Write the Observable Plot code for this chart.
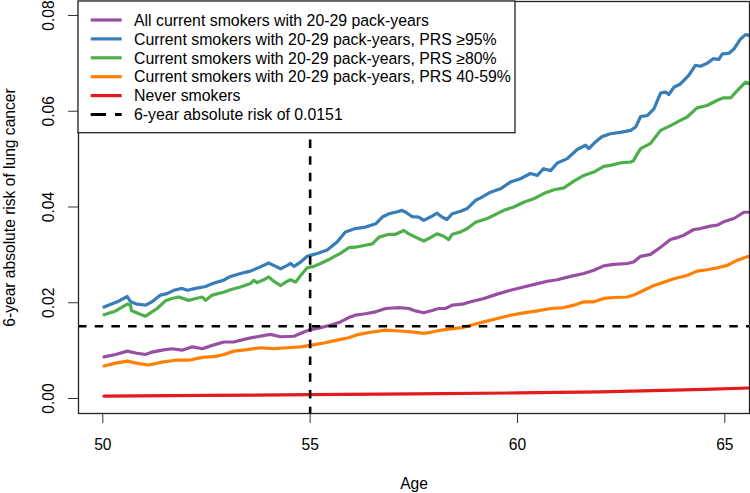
<!DOCTYPE html>
<html><head><meta charset="utf-8">
<script src="https://cdn.jsdelivr.net/npm/d3@7"></script>
<script src="https://cdn.jsdelivr.net/npm/@observablehq/plot@0.6"></script>
<style>
html,body{margin:0;padding:0;background:#fff;}
#chart{width:750px;height:493px;}
</style></head><body><div id="chart"></div>
<script>
const seriesNames = [
  "All current smokers with 20-29 pack-years",
  "Current smokers with 20-29 pack-years, PRS \u226595%",
  "Current smokers with 20-29 pack-years, PRS \u226580%",
  "Current smokers with 20-29 pack-years, PRS 40-59%",
  "Never smokers"
];
const thresholdLabel = "6-year absolute risk of 0.0151";
const seriesColors = ["#984EA3", "#377EB8", "#4DAF4A", "#FF7F00", "#E41A1C"];

// [age, 6-year absolute risk]
const purple = [[50.03,.0087],[50.31,.0092],[50.59,.0099],[50.79,.0095],[51.03,.0092],[51.19,.0097],[51.43,.0101],[51.67,.0104],[51.91,.0101],[52.16,.0108],[52.40,.0104],[52.64,.0111],[52.92,.0118],[53.16,.0118],[53.48,.0125],[53.72,.0129],[54.04,.0134],[54.29,.0129],[54.61,.0130],[54.85,.0139],[55.01,.0144],[55.25,.0148],[55.49,.0153],[55.73,.0160],[55.93,.0169],[56.09,.0174],[56.33,.0177],[56.58,.0181],[56.82,.0188],[57.14,.0190],[57.38,.0188],[57.54,.0183],[57.74,.0179],[57.94,.0184],[58.10,.0188],[58.26,.0188],[58.43,.0195],[58.67,.0197],[58.87,.0202],[59.19,.0209],[59.51,.0218],[59.83,.0226],[60.15,.0233],[60.48,.0240],[60.72,.0245],[60.96,.0248],[61.28,.0255],[61.60,.0261],[61.84,.0268],[62.08,.0277],[62.32,.0280],[62.65,.0282],[62.80,.0285],[62.97,.0297],[63.21,.0301],[63.45,.0316],[63.69,.0332],[63.85,.0336],[64.01,.0341],[64.25,.0353],[64.41,.0355],[64.65,.0360],[64.82,.0362],[64.97,.0369],[65.22,.0376],[65.46,.0389],[65.60,.0389]];
const blue = [[50.03,.0191],[50.35,.0202],[50.59,.0213],[50.67,.0202],[50.83,.0197],[51.03,.0195],[51.19,.0202],[51.39,.0216],[51.55,.0219],[51.71,.0226],[51.91,.0230],[52.04,.0226],[52.24,.0230],[52.48,.0234],[52.64,.0240],[52.91,.0247],[53.08,.0255],[53.32,.0261],[53.56,.0266],[53.80,.0275],[54.00,.0283],[54.12,.0278],[54.29,.0271],[54.45,.0278],[54.53,.0282],[54.61,.0276],[54.77,.0285],[54.93,.0297],[55.01,.0299],[55.17,.0303],[55.41,.0310],[55.65,.0327],[55.85,.0348],[56.09,.0355],[56.33,.0358],[56.58,.0365],[56.74,.0379],[56.90,.0386],[57.06,.0389],[57.22,.0393],[57.34,.0387],[57.46,.0380],[57.62,.0379],[57.74,.0372],[57.90,.0379],[58.06,.0387],[58.18,.0379],[58.30,.0374],[58.43,.0386],[58.63,.0391],[58.79,.0397],[58.99,.0414],[59.11,.0419],[59.35,.0431],[59.59,.0438],[59.83,.0452],[60.07,.0459],[60.31,.0470],[60.48,.0466],[60.63,.0480],[60.80,.0476],[60.96,.0492],[61.20,.0501],[61.44,.0520],[61.64,.0529],[61.72,.0522],[61.88,.0536],[62.04,.0547],[62.24,.0553],[62.48,.0556],[62.73,.0560],[62.85,.0567],[62.97,.0589],[63.13,.0591],[63.29,.0605],[63.45,.0638],[63.57,.0640],[63.65,.0635],[63.77,.0650],[63.93,.0657],[64.13,.0675],[64.29,.0696],[64.41,.0694],[64.57,.0700],[64.73,.0710],[64.85,.0708],[64.94,.0720],[65.10,.0721],[65.22,.0730],[65.38,.0751],[65.50,.0760],[65.60,.0758]];
const green = [[50.03,.0175],[50.31,.0183],[50.59,.0197],[50.67,.0195],[50.69,.0184],[50.87,.0177],[51.03,.0172],[51.15,.0179],[51.31,.0188],[51.51,.0204],[51.67,.0209],[51.83,.0212],[52.07,.0205],[52.24,.0209],[52.40,.0212],[52.48,.0205],[52.64,.0216],[52.91,.0222],[53.08,.0227],[53.32,.0233],[53.56,.0240],[53.64,.0247],[53.72,.0242],[53.88,.0248],[54.00,.0254],[54.12,.0245],[54.29,.0236],[54.45,.0245],[54.53,.0248],[54.65,.0243],[54.77,.0257],[54.93,.0273],[55.09,.0276],[55.25,.0282],[55.49,.0292],[55.73,.0303],[55.93,.0315],[56.09,.0316],[56.33,.0320],[56.50,.0323],[56.66,.0337],[56.90,.0343],[57.06,.0343],[57.26,.0351],[57.38,.0344],[57.54,.0337],[57.74,.0329],[57.90,.0336],[58.06,.0344],[58.22,.0339],[58.34,.0332],[58.43,.0343],[58.63,.0348],[58.79,.0355],[58.99,.0368],[59.27,.0376],[59.67,.0393],[59.91,.0400],[60.15,.0410],[60.39,.0417],[60.63,.0428],[60.88,.0436],[61.12,.0440],[61.36,.0454],[61.60,.0466],[61.84,.0473],[62.08,.0485],[62.24,.0487],[62.48,.0492],[62.73,.0494],[62.80,.0497],[62.89,.0511],[62.97,.0522],[63.21,.0533],[63.45,.0560],[63.69,.0570],[63.93,.0581],[64.09,.0588],[64.33,.0607],[64.57,.0612],[64.82,.0623],[64.97,.0628],[65.14,.0628],[65.30,.0643],[65.50,.0661],[65.60,.0657]];
const orange = [[50.03,.0068],[50.31,.0074],[50.59,.0078],[50.87,.0073],[51.11,.0070],[51.43,.0076],[51.75,.0080],[52.07,.0080],[52.40,.0086],[52.72,.0088],[52.92,.0092],[53.16,.0099],[53.48,.0102],[53.80,.0106],[54.12,.0104],[54.45,.0106],[54.77,.0108],[55.01,.0111],[55.33,.0116],[55.65,.0122],[55.93,.0127],[56.17,.0134],[56.50,.0139],[56.82,.0143],[57.14,.0141],[57.46,.0139],[57.74,.0136],[57.94,.0139],[58.18,.0143],[58.43,.0146],[58.67,.0148],[58.87,.0153],[59.19,.0160],[59.51,.0167],[59.83,.0174],[60.15,.0179],[60.48,.0183],[60.80,.0188],[61.12,.0190],[61.36,.0195],[61.60,.0202],[61.84,.0202],[62.08,.0209],[62.32,.0211],[62.65,.0212],[62.80,.0216],[63.05,.0226],[63.29,.0236],[63.53,.0243],[63.77,.0250],[64.09,.0257],[64.33,.0266],[64.57,.0269],[64.82,.0273],[65.06,.0278],[65.30,.0289],[65.54,.0296],[65.60,.0297]];
const red = [[50.03,.0005],[52.5,.00065],[55,.0008],[57.5,.00098],[60,.00117],[62,.0014],[63.5,.0017],[64.5,.0019],[65.6,.0022]];

const thresholdRisk = 0.0151;
const thresholdAge = 55;
const thresholdAgeTop = 0.054;
const xTicks = [50, 55, 60, 65];
const yTicks = [0, 0.02, 0.04, 0.06, 0.08];
const yTickLabels = ["0.00", "0.02", "0.04", "0.06", "0.08"];
const xTitle = "Age";
const yTitle = "6-year absolute risk of lung cancer";

const xDomain = [49.414, 65.595];
const yDomain = [-0.00313, 0.08292];
const FS = 15.6;
const LFS = 15.85;

const rows = [purple, blue, green, orange, red].flatMap((s, i) =>
  s.map(([age, value]) => ({age, value, series: seriesNames[i]})));

const plot = Plot.plot({
  width: 750, height: 493,
  marginLeft: 78, marginRight: 1, marginTop: 1, marginBottom: 80,
  x: {domain: xDomain},
  y: {domain: yDomain},
  color: {domain: seriesNames, range: seriesColors},
  style: {fontFamily: "'Liberation Sans', Arial, Helvetica, sans-serif", fontSize: FS + "px", background: "#fff", color: "#000", overflow: "visible"},
  marks: [
    Plot.line(rows, {x: "age", y: "value", z: "series", stroke: "series", strokeWidth: 3.2, clip: true}),
    Plot.ruleY([thresholdRisk], {stroke: "#000", strokeWidth: 2.6, strokeDasharray: "8.5,8.2"}),
    Plot.ruleX([thresholdAge], {y1: thresholdAgeTop, y2: yDomain[0], stroke: "#000", strokeWidth: 2.6, strokeDasharray: "8.5,8.2"}),
    Plot.frame({stroke: "#222", strokeWidth: 1.3}),
    Plot.axisX({ticks: xTicks, tickSize: 10, tickPadding: 15, label: null, fontSize: FS, stroke: "#333"}),
    Plot.axisY({ticks: yTicks, tickSize: 10, tickFormat: () => "", label: null, stroke: "#333"}),
    Plot.text(yTicks, {y: d => d, text: (d, i) => yTickLabels[i], frameAnchor: "left", dx: -30, rotate: -90, lineAnchor: "middle", textAnchor: "middle", fontSize: FS}),
    Plot.text([yTitle], {frameAnchor: "left", dx: -74.5, rotate: -90, lineAnchor: "top", textAnchor: "middle", fontSize: FS}),
    Plot.text([xTitle], {frameAnchor: "bottom", dy: 64.7, lineAnchor: "top", textAnchor: "middle", fontSize: FS})
  ]
});
document.getElementById("chart").appendChild(plot);

// legend (R style box inside the plot, top-left)
const svg = d3.select(plot);
const lg = svg.append("g").attr("text-anchor", "start");
lg.append("rect").attr("x", 78).attr("y", 1).attr("width", 437).attr("height", 131.7)
  .attr("fill", "#fff").attr("stroke", "#222").attr("stroke-width", 1.3);
const legendItems = seriesNames.map((n, i) => ({label: n, color: seriesColors[i], dash: null}))
  .concat([{label: thresholdLabel, color: "#000", dash: "15.3,9"}]);
legendItems.forEach((d, i) => {
  const cy = 20 + i * 18.9;
  lg.append("line").attr("x1", 90.7).attr("x2", 121.7).attr("y1", cy).attr("y2", cy)
    .attr("stroke", d.color).attr("stroke-width", d.dash ? 2.8 : 3.2)
    .attr("stroke-dasharray", d.dash);
  lg.append("text").attr("x", 134).attr("y", cy + 5.7).attr("font-size", LFS)
    .attr("text-anchor", "start").attr("fill", "#000").text(d.label);
});
</script></body></html>
